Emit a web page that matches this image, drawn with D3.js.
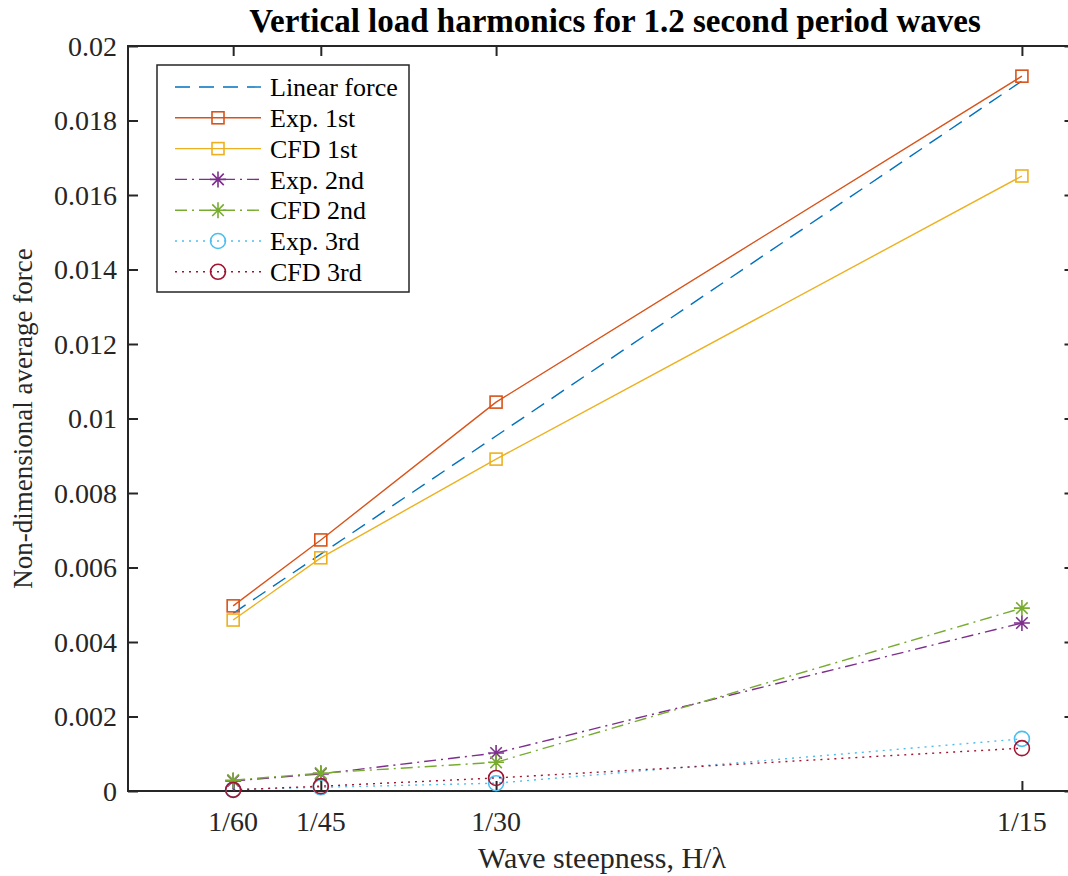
<!DOCTYPE html>
<html>
<head>
<meta charset="utf-8">
<script src="https://cdn.jsdelivr.net/npm/d3@7"></script>
<style>
  body { margin: 0; background: #fff; }
  svg { display: block; font-family: "Liberation Serif", "Times New Roman", serif; }
</style>
</head>
<body>
<svg width="1068" height="876"></svg>
<script>
// wave steepness H/lambda
var steepness = [1 / 60, 1 / 45, 1 / 30, 1 / 15];
var steepLabels = ['1/60', '1/45', '1/30', '1/15'];
var yTicks = [0, 0.002, 0.004, 0.006, 0.008, 0.01, 0.012, 0.014, 0.016, 0.018, 0.02];

var linearForce = [0.00477, 0.00636, 0.00953, 0.01906];
var exp1st = [0.00497, 0.00674, 0.01044, 0.01919];
var cfd1st = [0.00459, 0.00626, 0.00891, 0.01651];
var exp2nd = [0.00027, 0.00046, 0.00102, 0.00451];
var cfd2nd = [0.00029, 0.00048, 0.00077, 0.00491];
var exp3rd = [0.00004, 0.00010, 0.00021, 0.00140];
var cfd3rd = [0.00003, 0.00013, 0.00035, 0.00115];

var names = ['Linear force', 'Exp. 1st', 'CFD 1st', 'Exp. 2nd', 'CFD 2nd', 'Exp. 3rd', 'CFD 3rd'];
var allValues = [linearForce, exp1st, cfd1st, exp2nd, cfd2nd, exp3rd, cfd3rd];

// matlab style per series
var colors = ['#0072BD', '#D95319', '#EDB120', '#7E2F8E', '#77AC30', '#4DBEEE', '#A2142F'];
var dashes = ['15,9', null, null, '12,5,2,5', '12,5,2,5', '2,5', '2,5'];
var markers = [null, 'square', 'square', 'star', 'star', 'circle', 'circle'];

const svg = d3.select('svg');
const axisColor = '#262626';

const x = d3.scaleLinear().domain([0.01, 0.07]).range([128, 1074.5]);
const y = d3.scaleLinear().domain([0, 0.02]).range([791, 46]);
const tickLen = 10;

// box
svg.append('rect')
  .attr('x', x.range()[0]).attr('y', y.range()[1])
  .attr('width', x.range()[1] - x.range()[0])
  .attr('height', y.range()[0] - y.range()[1])
  .attr('fill', 'none').attr('stroke', axisColor).attr('stroke-width', 2);

// axes, inward ticks
const fmt = d => (+d.toFixed(4)).toString();
const axLeft = svg.append('g').attr('transform', `translate(${x.range()[0]},0)`)
  .call(d3.axisRight(y).tickValues(yTicks).tickSize(tickLen).tickFormat(''));
const axRight = svg.append('g').attr('transform', `translate(${x.range()[1]},0)`)
  .call(d3.axisLeft(y).tickValues(yTicks).tickSize(tickLen).tickFormat(''));
const axBottom = svg.append('g').attr('transform', `translate(0,${y.range()[0]})`)
  .call(d3.axisTop(x).tickValues(steepness).tickSize(tickLen).tickFormat(''));
const axTop = svg.append('g').attr('transform', `translate(0,${y.range()[1]})`)
  .call(d3.axisBottom(x).tickValues(steepness).tickSize(tickLen).tickFormat(''));
[axLeft, axRight, axBottom, axTop].forEach(g => {
  g.select('.domain').remove();
  g.selectAll('line').attr('stroke', axisColor).attr('stroke-width', 2);
});

// tick labels
svg.append('g').selectAll('text').data(yTicks).join('text')
  .attr('x', 117).attr('y', d => y(d)).attr('dy', '0.35em')
  .attr('text-anchor', 'end').attr('font-size', 28).attr('fill', axisColor)
  .text(fmt);
svg.append('g').selectAll('text').data(steepness).join('text')
  .attr('x', d => x(d)).attr('y', 831)
  .attr('text-anchor', 'middle').attr('font-size', 28).attr('fill', axisColor)
  .text((d, i) => steepLabels[i]);

// labels and title
svg.append('text')
  .attr('x', 602).attr('y', 868)
  .attr('text-anchor', 'middle').attr('font-size', 30).attr('fill', axisColor)
  .text('Wave steepness, H/λ');
svg.append('text')
  .attr('transform', `translate(32,${(y.range()[0] + y.range()[1]) / 2}) rotate(-90)`)
  .attr('text-anchor', 'middle').attr('font-size', 27).attr('fill', axisColor)
  .text('Non-dimensional average force');
svg.append('text')
  .attr('x', 615).attr('y', 32)
  .attr('text-anchor', 'middle').attr('font-size', 33).attr('font-weight', 'bold')
  .attr('fill', '#000')
  .text('Vertical load harmonics for 1.2 second period waves');

// marker drawing
function drawMarker(g, type, color) {
  if (type === 'square') {
    g.append('rect').attr('x', -6).attr('y', -6).attr('width', 12).attr('height', 12)
      .attr('fill', 'none').attr('stroke', color).attr('stroke-width', 1.6);
  } else if (type === 'circle') {
    g.append('circle').attr('r', 7.5)
      .attr('fill', 'none').attr('stroke', color).attr('stroke-width', 1.6);
  } else if (type === 'star') {
    const r = 8, s = r * 0.72;
    g.append('path')
      .attr('d', `M${-r},0H${r}M0,${-r}V${r}M${-s},${-s}L${s},${s}M${-s},${s}L${s},${-s}`)
      .attr('stroke', color).attr('stroke-width', 1.6);
  }
}

const line = d3.line().x(d => x(d[0])).y(d => y(d[1]));

allValues.forEach((vals, i) => {
  const pts = steepness.map((s, j) => [s, vals[j]]);
  const g = svg.append('g');
  g.append('path').datum(pts)
    .attr('d', line).attr('fill', 'none')
    .attr('stroke', colors[i]).attr('stroke-width', 1.4)
    .attr('stroke-dasharray', dashes[i]);
  if (markers[i]) {
    g.selectAll('g').data(pts).join('g')
      .attr('transform', d => `translate(${x(d[0])},${y(d[1])})`)
      .each(function () { drawMarker(d3.select(this), markers[i], colors[i]); });
  }
});

// legend
const lg = svg.append('g');
lg.append('rect').attr('x', 157).attr('y', 65).attr('width', 252).attr('height', 227)
  .attr('fill', '#fff').attr('stroke', axisColor).attr('stroke-width', 1.5);
names.forEach((n, i) => {
  const cy = 87 + i * 30.8;
  const row = lg.append('g').attr('transform', `translate(0,${cy})`);
  row.append('line').attr('x1', 175).attr('x2', 261).attr('y1', 0).attr('y2', 0)
    .attr('stroke', colors[i]).attr('stroke-width', 1.4)
    .attr('stroke-dasharray', dashes[i]);
  if (markers[i]) {
    drawMarker(row.append('g').attr('transform', 'translate(218,0)'), markers[i], colors[i]);
  }
  row.append('text').attr('x', 270).attr('dy', '0.35em')
    .attr('font-size', 26).attr('fill', '#000').text(n);
});
</script>
</body>
</html>
